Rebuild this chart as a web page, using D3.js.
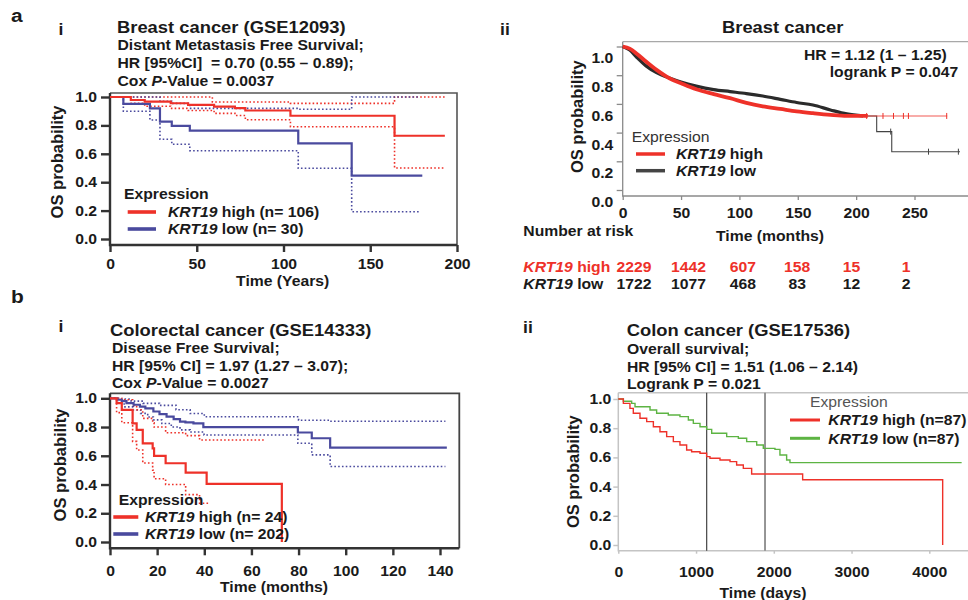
<!DOCTYPE html>
<html>
<head>
<meta charset="utf-8">
<script src="https://cdn.jsdelivr.net/npm/d3@7"></script>
<style>
body { margin: 0; background: #fff; }
svg { display: block; }
</style>
</head>
<body>
<svg id="fig" width="968" height="600"></svg>
<script>
// ---------- data ----------
const survTicks = [0, 0.2, 0.4, 0.6, 0.8, 1.0];

// a(i) Breast cancer GSE12093, DMFS, time in "years" as labelled
const a1XTicks  = [0, 50, 100, 150, 200];
const a1HighT   = [12, 20, 35, 45, 60, 72, 78, 104, 164];
const a1HighS   = [0.979, 0.967, 0.956, 0.944, 0.932, 0.921, 0.905, 0.868, 0.727];
const a1HighLo  = [0.955, 0.935, 0.92, 0.905, 0.885, 0.87, 0.84, 0.79, 0.50];
const a1HighUpT = [59, 104, 164];
const a1HighUp  = [0.965, 0.955, 1.0];
const a1HighEnd = 193;
const a1LowT    = [7.7, 23, 28.8, 35.6, 46, 108.5, 139.3];
const a1LowS    = [0.951, 0.920, 0.826, 0.796, 0.763, 0.674, 0.446];
const a1LowLo   = [0.90, 0.838, 0.702, 0.667, 0.622, 0.498, 0.192];
const a1LowUp   = [1.0, 1.0, 0.97, 0.955, 0.92, 0.914, 1.0];
const a1LowEnd  = 180;

// a(ii) Breast cancer (KM plotter), OS, months
const a2XTicks   = [0, 50, 100, 150, 200, 250];
const a2HighT    = [0, 6, 12, 20, 29, 40, 50, 63, 78, 92, 106, 120, 135, 149, 163, 178, 192, 210];
const a2HighS    = [1, 0.985, 0.95, 0.895, 0.837, 0.779, 0.744, 0.702, 0.668, 0.64, 0.607, 0.583, 0.565, 0.548, 0.535, 0.523, 0.516, 0.516];
const a2HighEnd  = 278;
const a2HighCens = [209, 223, 232, 240.5, 244.8, 277.6];
const a2LowT     = [0, 6, 12, 20, 29, 40, 50, 63, 78, 92, 106, 120, 135, 149, 163, 178, 192, 206];
const a2LowS     = [1, 0.975, 0.925, 0.865, 0.818, 0.78, 0.752, 0.724, 0.70, 0.686, 0.672, 0.655, 0.632, 0.61, 0.592, 0.558, 0.53, 0.516];
const a2LowTailT = [206, 217.6, 230.5];
const a2LowTailS = [0.516, 0.407, 0.267];
const a2LowEnd   = 289;
const a2LowCens  = [229.6, 262, 287.6];
const riskTimes  = [0, 50, 100, 150, 200, 250];
const riskHigh   = [2229, 1442, 607, 158, 15, 1];
const riskLow    = [1722, 1077, 468, 83, 12, 2];

// b(i) Colorectal cancer GSE14333, DFS, months
const b1XTicks  = [0, 20, 40, 60, 80, 100, 120, 140];
const b1HighT   = [2.8, 5.0, 9.6, 11.3, 13.9, 18.1, 18.7, 23.6, 32.1, 41.0, 72.9];
const b1HighS   = [0.966, 0.919, 0.826, 0.78, 0.687, 0.652, 0.599, 0.548, 0.483, 0.404, 0];
const b1HighLoT = [2.8, 5.0, 9.6, 11.3, 13.9, 18.1, 18.7, 23.6, 32.1, 38];
const b1HighLo  = [0.90, 0.83, 0.70, 0.64, 0.55, 0.50, 0.44, 0.40, 0.33, 0.27];
const b1HighLoEnd = 42;
const b1HighUp  = [1.0, 0.99, 0.95, 0.92, 0.86, 0.83, 0.80, 0.76, 0.74, 0.71];
const b1HighUpEnd = 66;
const b1LowT    = [3, 5, 7, 10, 12.7, 15, 18.4, 21, 24, 27, 29.7, 32, 35.4, 39.6, 79.7, 85.6, 93.4];
const b1LowS    = [0.99, 0.98, 0.966, 0.955, 0.942, 0.93, 0.908, 0.89, 0.873, 0.855, 0.838, 0.832, 0.826, 0.799, 0.762, 0.722, 0.657];
const b1LowEnd  = 142.9;
const b1LowUpT  = [4, 9, 14, 21, 28, 34, 40, 80, 93];
const b1LowUp   = [0.995, 0.98, 0.965, 0.951, 0.92, 0.894, 0.872, 0.847, 0.84];
const b1LowLoT  = [3, 6, 9.9, 13, 16, 18.4, 22, 26, 29.7, 34, 39.9, 79.7, 85.6, 93.4];
const b1LowLo   = [0.97, 0.94, 0.919, 0.895, 0.87, 0.85, 0.825, 0.80, 0.78, 0.765, 0.745, 0.687, 0.606, 0.525];
const b1CIEnd   = 142.3;

// b(ii) Colon cancer GSE17536, OS, days
const b2XTicks = [0, 1000, 2000, 3000, 4000];
const b2HighT  = [65, 150, 193, 279, 365, 451, 536, 622, 708, 793, 879, 943, 1051, 1136, 1179, 1308, 1437, 1522, 1608, 1715, 2371, 4172];
const b2HighS  = [0.970, 0.936, 0.902, 0.868, 0.845, 0.810, 0.776, 0.742, 0.708, 0.685, 0.651, 0.639, 0.628, 0.605, 0.594, 0.582, 0.571, 0.548, 0.525, 0.486, 0.447, 0];
const b2LowT   = [65, 172, 215, 408, 493, 643, 793, 901, 965, 1051, 1136, 1201, 1394, 1544, 1651, 1780, 1865, 2015, 2079, 2165, 2208];
const b2LowS   = [0.985, 0.970, 0.947, 0.925, 0.902, 0.890, 0.879, 0.856, 0.833, 0.810, 0.792, 0.765, 0.742, 0.731, 0.708, 0.685, 0.662, 0.655, 0.616, 0.582, 0.564];
const b2LowEnd = 4416;
const b2Marks  = [1137, 1887];

// ---------- drawing ----------
const FONT = "'Liberation Sans', Arial, Helvetica, sans-serif";
const SX = 1.1; // the published figure is slightly stretched horizontally
const RED = "#ee3129", BLUE = "#4a4a9e", GREEN = "#5db443", DARK = "#2b2b2b";
const DOT = "1.6,2.2";

const svg = d3.select("#fig").attr("font-family", FONT);

// KM step points: start at (0, 1), one point per event, hold last value to `end`
function steps(T, S, end) {
	const pts = [[0, 1]];
	T.forEach((t, i) => pts.push([t, S[i]]));
	pts.push([end, S[S.length - 1]]);
	return pts;
}

function survAt(T, S, t) {
	let s = 1;
	T.forEach((ti, i) => { if (ti <= t) s = S[i]; });
	return s;
}

function txt(g, x, y, parts, o = {}) {
	const t = g.append("text")
		.attr("transform", `translate(${x},${y}) scale(${o.rotate ? 1 : SX},1)` + (o.rotate ? " rotate(-90)" : ""))
		.attr("font-size", o.size || 14.3)
		.attr("font-weight", o.weight || "bold")
		.attr("fill", o.fill || "#1a1a1a")
		.attr("text-anchor", o.anchor || "start")
		.attr("dominant-baseline", o.rotate ? "central" : null)
		.style("white-space", "pre");
	(typeof parts === "string" ? [[parts]] : parts).forEach(([s, it]) =>
		t.append("tspan").attr("font-style", it ? "italic" : null).text(s));
	return t;
}

function setup(o) {
	const x = d3.scaleLinear().domain(o.xd).range(o.xr);
	const y = d3.scaleLinear().domain([0, 1]).range(o.yr);
	const [l, t, r, b] = o.box;
	const g = svg.append("g");

	// top and right frame
	g.append("path")
		.attr("d", `M${l},${t}H${r}V${b}`)
		.attr("fill", "none").attr("stroke", o.frame).attr("stroke-width", o.frameW);

	const yAx = g.append("g").attr("transform", `translate(${l},0)`)
		.call(d3.axisLeft(y).tickValues(survTicks).tickFormat(d3.format(".1f"))
			.tickSize(o.ytick).tickPadding(o.ypad));
	const xAx = g.append("g").attr("transform", `translate(0,${b})`)
		.call(d3.axisBottom(x).tickValues(o.xticks).tickFormat(d3.format("d"))
			.tickSize(o.xtick).tickPadding(o.xpad));

	[yAx, xAx].forEach(a => {
		a.select(".domain").remove();
		a.attr("font-family", FONT).attr("font-size", 14.3).attr("font-weight", "bold")
			.attr("color", o.axis);
		a.selectAll(".tick line").attr("stroke-width", o.axisW);
		a.selectAll("text").attr("fill", "#1a1a1a").each(function() {
			const tx = +this.getAttribute("x") || 0;
			d3.select(this).attr("x", 0).attr("transform", `translate(${tx},0) scale(${SX},1)`);
		});
	});

	// left and bottom axis lines
	g.append("path")
		.attr("d", `M${l},${t}V${b}H${r}`)
		.attr("fill", "none").attr("stroke", o.axis).attr("stroke-width", o.axisW);

	return { g, x, y, yAx, xAx };
}

function curve(p, pts, color, w, opt = {}) {
	const line = d3.line()
		.x(d => p.x(d[0]))
		.y(d => p.y(d[1]))
		.curve(opt.curve || d3.curveStepAfter);
	p.g.append("path")
		.attr("d", line(pts))
		.attr("fill", "none")
		.attr("stroke", color)
		.attr("stroke-width", w)
		.attr("stroke-opacity", opt.opacity || 1)
		.attr("stroke-dasharray", opt.dash || null);
}

function legend(g, o) {
	txt(g, o.hx, o.hy, "Expression", { weight: o.hweight || "bold", fill: o.hfill });
	o.rows.forEach(r => {
		g.append("line")
			.attr("x1", o.x1).attr("x2", o.x2).attr("y1", r.y).attr("y2", r.y)
			.attr("stroke", r.color).attr("stroke-width", o.w);
		txt(g, o.tx, r.y + 5.3, [["KRT19", true], [" " + r.label]]);
	});
}

// panel letters
txt(svg, 11, 22, "a", { size: 19 });
txt(svg, 11, 303, "b", { size: 19 });

// ===== a(i) =====
{
	const p = setup({
		xd: [0, 200], xr: [110, 457], yr: [239, 97], box: [110, 93, 457, 245],
		xticks: a1XTicks, ytick: 9, ypad: 4, xtick: 7, xpad: 7,
		axis: "#333", axisW: 2.4, frame: "#555", frameW: 1.6
	});
	txt(svg, 58.5, 35, "i", { size: 16 });
	txt(svg, 117, 33.3, "Breast cancer (GSE12093)", { size: 16.7 });
	txt(svg, 117.5, 50, "Distant Metastasis Free Survival;");
	txt(svg, 117.5, 68, "HR [95%CI]  = 0.70 (0.55 \u2013 0.89);");
	txt(svg, 117.5, 85.7, [["Cox "], ["P", true], ["-Value = 0.0037"]]);

	curve(p, steps(a1HighT, a1HighLo, a1HighEnd), RED, 1.6, { dash: DOT });
	curve(p, steps(a1HighUpT, a1HighUp, a1HighEnd), RED, 1.6, { dash: DOT });
	curve(p, steps(a1LowT, a1LowLo, a1LowEnd - 2), BLUE, 1.6, { dash: DOT });
	curve(p, steps(a1LowT, a1LowUp, a1LowEnd - 2), BLUE, 1.6, { dash: DOT });
	curve(p, steps(a1LowT, a1LowS, a1LowEnd), BLUE, 2.2);
	curve(p, steps(a1HighT, a1HighS, a1HighEnd), RED, 2.2);

	legend(p.g, {
		hx: 124, hy: 199, x1: 127.7, x2: 156, tx: 168, w: 3.6,
		rows: [{ y: 212, color: RED, label: "high (n= 106)" }, { y: 229, color: BLUE, label: "low (n= 30)" }]
	});
	txt(svg, 57, 162, "OS probability", { size: 16.5, anchor: "middle", rotate: true });
	txt(svg, 282.7, 285.5, "Time (Years)", { anchor: "middle" });
}

// ===== a(ii) =====
{
	const p = setup({
		xd: [0, 250], xr: [622.7, 914.5], yr: [190, 46.5], box: [622.7, 41.7, 975, 196],
		xticks: a2XTicks, ytick: 6, ypad: 3.4, xtick: 4, xpad: 8,
		axis: "#8a8a8a", axisW: 1.3, frame: "#a8a8a8", frameW: 1.3
	});
	// tick labels sit a little below their ticks in the original
	p.yAx.selectAll("text").attr("dy", 16.5);

	txt(svg, 500, 35, "ii", { size: 16 });
	txt(svg, 782.7, 33.3, "Breast cancer", { size: 16.7, anchor: "middle" });
	txt(svg, 946.7, 60, "HR = 1.12 (1 \u2013 1.25)", { anchor: "end" });
	txt(svg, 958.3, 77.3, "logrank P = 0.047", { anchor: "end" });

	// dense part drawn smooth (thousands of tiny steps), sparse tail as steps
	curve(p, a2LowT.map((t, i) => [t, a2LowS[i]]), DARK, 3.2, { curve: d3.curveMonotoneX });
	const lowTail = a2LowTailT.map((t, i) => [t, a2LowTailS[i]])
		.concat([[a2LowEnd, a2LowTailS[a2LowTailS.length - 1]]]);
	curve(p, lowTail, "#444", 1.1);
	curve(p, a2HighT.map((t, i) => [t, a2HighS[i]]), RED, 3.8, { curve: d3.curveMonotoneX });
	const hiLast = a2HighS[a2HighS.length - 1];
	curve(p, [[a2HighT[a2HighT.length - 1], hiLast], [a2HighEnd, hiLast]], RED, 1.1, { opacity: 0.8 });

	// censoring marks
	const cens = a2HighCens.map(t => ({ t, s: hiLast, c: RED }))
		.concat(a2LowCens.map(t => ({ t, s: survAt(a2LowTailT, a2LowTailS, t), c: "#444" })));
	p.g.selectAll("line.cens").data(cens).enter().append("line")
		.attr("class", "cens")
		.attr("x1", d => p.x(d.t)).attr("x2", d => p.x(d.t))
		.attr("y1", d => p.y(d.s) - 3).attr("y2", d => p.y(d.s) + 3)
		.attr("stroke", d => d.c).attr("stroke-width", 1);

	legend(p.g, {
		hx: 631.7, hy: 141.7, hweight: "normal", hfill: "#333", x1: 636, x2: 665, tx: 676, w: 3.5,
		rows: [{ y: 154, color: RED, label: "high" }, { y: 170.7, color: "#444", label: "low" }]
	});
	txt(svg, 576.7, 116.7, "OS probability", { size: 16.5, anchor: "middle", rotate: true });
	txt(svg, 770, 240.7, "Time (months)", { anchor: "middle" });

	// number at risk table
	const rx = d3.scaleLinear().domain([0, 250]).range([634, 906]);
	txt(svg, 523.3, 236, "Number at risk");
	txt(svg, 523.3, 271.7, [["KRT19", true], [" high"]], { fill: RED });
	txt(svg, 523.3, 289.3, [["KRT19", true], [" low"]]);
	const rows = [{ vals: riskHigh, y: 271.7, fill: RED }, { vals: riskLow, y: 289.3, fill: "#1a1a1a" }];
	rows.forEach(r => r.vals.forEach((v, i) =>
		txt(svg, rx(riskTimes[i]), r.y, String(v), { anchor: "middle", fill: r.fill })));
}

// ===== b(i) =====
{
	const p = setup({
		xd: [0, 140], xr: [110, 440], yr: [542, 398.3], box: [110, 393.3, 459.3, 548.3],
		xticks: b1XTicks, ytick: 9, ypad: 4, xtick: 7, xpad: 11,
		axis: "#333", axisW: 2.4, frame: "#444", frameW: 1.8
	});
	txt(svg, 58.5, 332, "i", { size: 16 });
	txt(svg, 110, 335.7, "Colorectal cancer (GSE14333)", { size: 16.7 });
	txt(svg, 112, 353.3, "Disease Free Survival;");
	txt(svg, 112, 371, "HR [95% CI] = 1.97 (1.27 \u2013 3.07);");
	txt(svg, 112, 388.3, [["Cox "], ["P", true], ["-Value = 0.0027"]]);

	curve(p, steps(b1LowUpT, b1LowUp, b1CIEnd), BLUE, 1.6, { dash: DOT });
	curve(p, steps(b1LowLoT, b1LowLo, b1CIEnd), BLUE, 1.6, { dash: DOT });
	curve(p, steps(b1HighLoT, b1HighLo, b1HighLoEnd), RED, 1.6, { dash: DOT });
	curve(p, steps(b1HighLoT, b1HighUp, b1HighUpEnd), RED, 1.6, { dash: DOT });
	curve(p, steps(b1LowT, b1LowS, b1LowEnd), BLUE, 2.2);
	curve(p, steps(b1HighT, b1HighS, b1HighT[b1HighT.length - 1]), RED, 2.2);

	legend(p.g, {
		hx: 118.7, hy: 505, x1: 113.3, x2: 138.3, tx: 145, w: 3.6,
		rows: [{ y: 517, color: RED, label: "high (n= 24)" }, { y: 534, color: BLUE, label: "low (n= 202)" }]
	});
	txt(svg, 60, 465, "OS probability", { size: 16.5, anchor: "middle", rotate: true });
	txt(svg, 274, 591.7, "Time (months)", { anchor: "middle" });
}

// ===== b(ii) =====
{
	const p = setup({
		xd: [0, 4000], xr: [618.3, 929.3], yr: [545, 399], box: [618.3, 392.7, 975, 550.7],
		xticks: b2XTicks, ytick: 5, ypad: 2, xtick: 3, xpad: 13.5,
		axis: "#c4c4c4", axisW: 1.5, frame: "#c4c4c4", frameW: 1.5
	});
	txt(svg, 523, 333, "ii", { size: 16 });
	txt(svg, 626.7, 335.7, "Colon cancer (GSE17536)", { size: 16.7 });
	txt(svg, 627, 354.3, "Overall survival;");
	txt(svg, 627, 371.7, "HR [95% CI] = 1.51 (1.06 \u2013 2.14)");
	txt(svg, 627, 389.3, "Logrank P = 0.021");

	p.g.selectAll("line.mark").data(b2Marks).enter().append("line")
		.attr("class", "mark")
		.attr("x1", d => p.x(d)).attr("x2", d => p.x(d))
		.attr("y1", p.y.range()[1] - 6.3).attr("y2", p.y.range()[0] + 5.7)
		.attr("stroke", (d, i) => i ? "#8a8a8a" : "#333")
		.attr("stroke-width", (d, i) => i ? 1.8 : 1.1);

	curve(p, steps(b2LowT, b2LowS, b2LowEnd), GREEN, 1.4);
	curve(p, steps(b2HighT, b2HighS, b2HighT[b2HighT.length - 1]), RED, 1.4);

	legend(p.g, {
		hx: 810, hy: 407.3, hweight: "normal", hfill: "#555", x1: 790, x2: 820, tx: 828.3, w: 3,
		rows: [{ y: 420, color: RED, label: "high (n=87)" }, { y: 438.3, color: GREEN, label: "low (n=87)" }]
	});
	txt(svg, 573, 471.7, "OS probability", { size: 16.5, anchor: "middle", rotate: true });
	txt(svg, 763, 597.5, "Time (days)", { anchor: "middle" });
}
</script>
</body>
</html>
